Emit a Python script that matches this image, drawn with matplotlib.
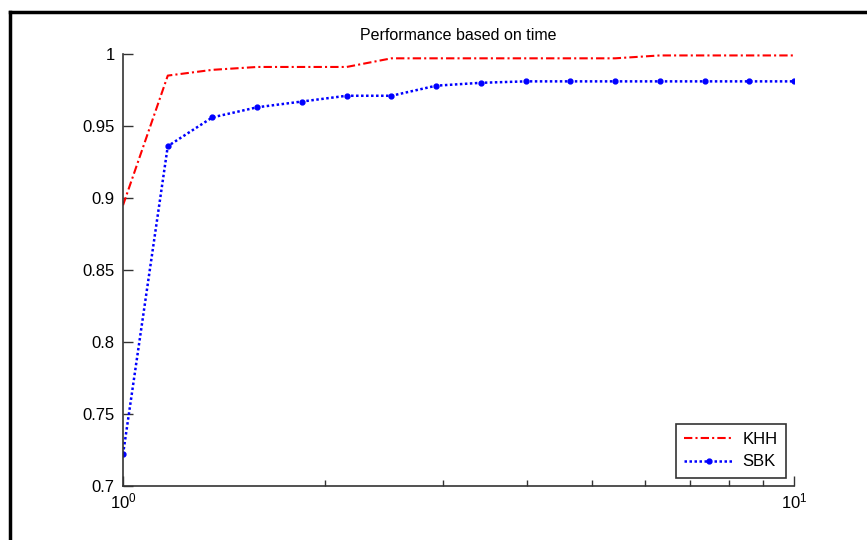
import matplotlib.pyplot as plt
from matplotlib.lines import Line2D
from matplotlib.ticker import FormatStrFormatter, NullFormatter

plt.rcParams['font.family'] = ['Liberation Sans', 'DejaVu Sans']

# time (log scale)
t = [1.0, 1.166, 1.359, 1.585, 1.848, 2.154, 2.512, 2.929,
     3.415, 3.981, 4.642, 5.412, 6.310, 7.356, 8.577, 10.0]

khh = [0.895, 0.985, 0.989, 0.991, 0.991, 0.991, 0.997, 0.997,
       0.997, 0.997, 0.997, 0.997, 0.999, 0.999, 0.999, 0.999]
sbk = [0.722, 0.936, 0.956, 0.963, 0.967, 0.971, 0.971, 0.978,
       0.980, 0.981, 0.981, 0.981, 0.981, 0.981, 0.981, 0.981]

fig = plt.figure(figsize=(8.67, 5.4), dpi=100)
ax = fig.add_axes([0.1419, 0.1, 0.7739, 0.8])

ax.plot(t, khh, color='r', lw=1.5, linestyle=(0, (4, 1.5, 1, 1.5)), label='KHH')
ax.plot(t, sbk, color='b', lw=1.8, linestyle=(0, (1, 1)), marker='.', ms=7, label='SBK')

ax.set_xscale('log')
ax.set_xlim(1, 10)
ax.set_ylim(0.7, 1.0)
ax.set_yticks([0.7, 0.75, 0.8, 0.85, 0.9, 0.95, 1.0])
ax.yaxis.set_major_formatter(FormatStrFormatter('%g'))
ax.xaxis.set_minor_formatter(NullFormatter())

for s in ['top', 'right']:
    ax.spines[s].set_visible(False)
for s in ['left', 'bottom']:
    ax.spines[s].set_color('#333333')
    ax.spines[s].set_linewidth(1.2)

ax.tick_params(which='major', direction='in', length=7, width=1, color='#333333',
               labelsize=12, pad=6)
ax.tick_params(which='minor', direction='in', length=4, width=1, color='#333333')
ax.tick_params(axis='x', which='major', pad=4)

ax.set_title('Performance based on time', fontsize=11.5, pad=10)

leg = ax.legend(loc='lower right', fontsize=12, fancybox=False, framealpha=1,
                edgecolor='#333333', borderaxespad=0.5, handlelength=3.0,
                handletextpad=0.5, borderpad=0.5, labelspacing=0.45)
leg.get_frame().set_linewidth(1.2)

# screenshot frame
fig.add_artist(Line2D([0.0118, 0.0118], [0.0, 0.978], color='black', lw=2.5,
                      transform=fig.transFigure))
fig.add_artist(Line2D([0.0118, 1.0], [0.978, 0.978], color='black', lw=2.5,
                      transform=fig.transFigure))

fig.savefig('out.png', dpi=100)
